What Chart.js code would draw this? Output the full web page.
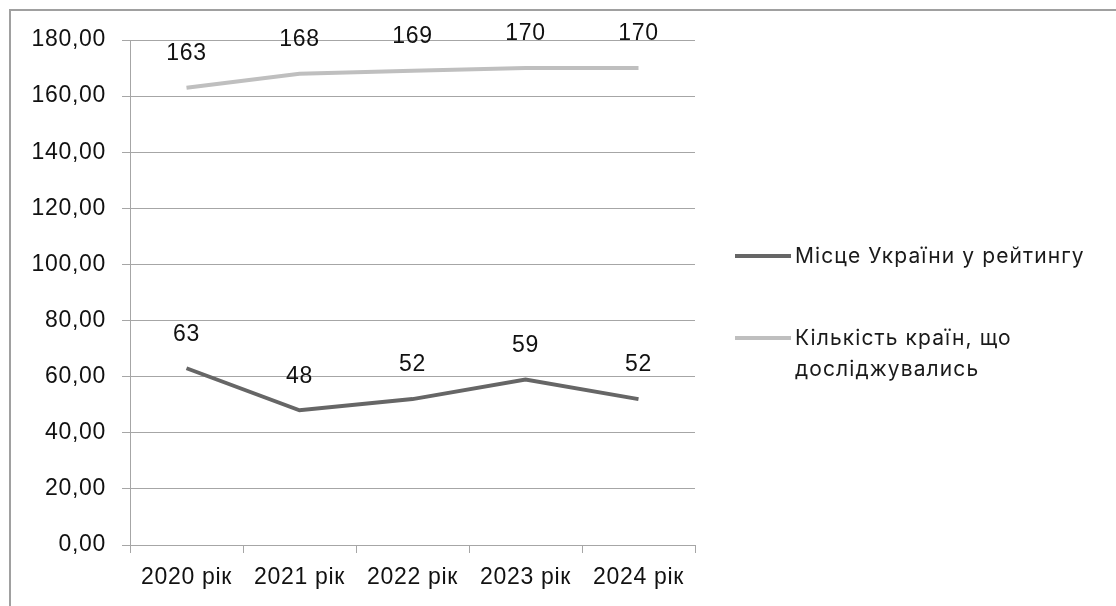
<!DOCTYPE html>
<html>
<head>
<meta charset="utf-8">
<script src="https://cdn.jsdelivr.net/npm/chart.js@4.4.1/dist/chart.umd.min.js"></script>
<style>
  html, body { margin: 0; padding: 0; background: #fff; }
  #wrap { position: relative; width: 1116px; height: 606px; overflow: hidden; }
  #frame { position: absolute; left: 9px; top: 9px; width: 1200px; height: 700px;
           border-left: 2px solid #a0a0a0; border-top: 2px solid #a0a0a0; }
  #chart { position: absolute; left: 0; top: 0; }
  .legend { position: absolute; left: 735px; font-family: Inter, "Noto Sans", sans-serif;
            font-size: 21px; letter-spacing: 1.1px; color: #1a1a1a; line-height: 31px; }
  .legend .swatch { position: absolute; left: 0; width: 56px; height: 4px; top: 14px; }
  .legend .text { position: absolute; left: 60px; white-space: nowrap; }
</style>
</head>
<body>
<div id="wrap">
  <div id="frame"></div>
  <canvas id="chart" width="1116" height="606"></canvas>
  <div class="legend" id="leg1" style="top:240px;"><div class="swatch" style="background:#666666"></div><div class="text">Місце України у рейтингу</div></div>
  <div class="legend" id="leg2" style="top:322px;"><div class="swatch" style="background:#bfbfbf"></div><div class="text">Кількість країн, що<br>досліджувались</div></div>
</div>
<script>
// Дані
const years = ['2020 рік', '2021 рік', '2022 рік', '2023 рік', '2024 рік'];
const rankUkraine = [63, 48, 52, 59, 52];
const countriesTotal = [163, 168, 169, 170, 170];
const seriesNames = ['Місце України у рейтингу', 'Кількість країн, що досліджувались'];

const axisFont = { family: '"Liberation Sans", Arial, sans-serif', size: 23 };

// трохи ширший текст, як на оригіналі
const spacing = {
    id: 'spacing',
    beforeDraw(chart) { chart.ctx.letterSpacing = '0.7px'; }
};

// Підписи над точками
const pointLabels = {
    id: 'pointLabels',
    afterDatasetsDraw(chart) {
        const ctx = chart.ctx;
        ctx.save();
        ctx.font = '23px "Liberation Sans", Arial, sans-serif';
        ctx.letterSpacing = '0.7px';
        ctx.fillStyle = '#111';
        ctx.textAlign = 'center';
        ctx.textBaseline = 'middle';
        chart.data.datasets.forEach((ds, i) => {
            chart.getDatasetMeta(i).data.forEach((pt, j) => {
                ctx.fillText(ds.data[j], pt.x, pt.y - 34);
            });
        });
        ctx.restore();
    }
};

let ctx = document.getElementById('chart').getContext('2d');
let chart = new Chart(ctx, {
    type: 'line',
    data: {
        labels: years,
        datasets: [{
            label: seriesNames[0],
            data: rankUkraine,
            borderColor: '#666666',
            borderWidth: 4,
            pointRadius: 0,
            tension: 0
        }, {
            label: seriesNames[1],
            data: countriesTotal,
            borderColor: '#bfbfbf',
            borderWidth: 4,
            pointRadius: 0,
            tension: 0
        }]
    },
    options: {
        responsive: false,
        animation: false,
        layout: { padding: { left: 0, top: 40, right: 421, bottom: 0 } },
        plugins: { legend: { display: false }, tooltip: { enabled: false } },
        scales: {
            x: {
                offset: true,
                grid: { offset: true, drawOnChartArea: false, drawTicks: true, tickLength: 8, color: '#a6a6a6' },
                border: { color: '#a6a6a6' },
                ticks: { font: axisFont, color: '#111', padding: 11, maxRotation: 0 },
                afterFit(scale) { scale.height = 61; }
            },
            y: {
                min: 0,
                max: 180,
                grid: { color: '#a6a6a6', tickLength: 8 },
                border: { color: '#a6a6a6' },
                ticks: {
                    stepSize: 20,
                    font: axisFont,
                    color: '#111',
                    padding: 16,
                    callback: v => v.toFixed(2).replace('.', ',')
                },
                afterFit(scale) { scale.width = 130; }
            }
        }
    },
    plugins: [spacing, pointLabels]
});
</script>
</body>
</html>
